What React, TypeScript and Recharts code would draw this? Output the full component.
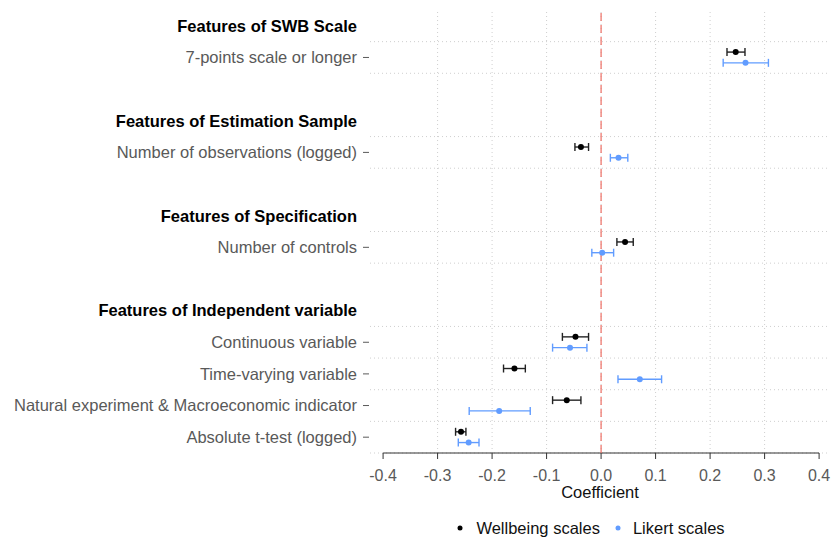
import {
  ComposedChart,
  ErrorBar,
  Legend,
  ReferenceLine,
  Scatter,
  XAxis,
  YAxis,
} from "recharts";

// rows from top to bottom; "" = empty spacer row
const rowLabels = [
  "Features of SWB Scale",
  "7-points scale or longer",
  "",
  "Features of Estimation Sample",
  "Number of observations (logged)",
  "",
  "Features of Specification",
  "Number of controls",
  "",
  "Features of Independent variable",
  "Continuous variable",
  "Time-varying variable",
  "Natural experiment & Macroeconomic indicator",
  "Absolute t-test (logged)",
];
const headers = [
  "Features of SWB Scale",
  "Features of Estimation Sample",
  "Features of Specification",
  "Features of Independent variable",
];

const items = [
  "7-points scale or longer",
  "Number of observations (logged)",
  "Number of controls",
  "Continuous variable",
  "Time-varying variable",
  "Natural experiment & Macroeconomic indicator",
  "Absolute t-test (logged)",
];
const wellbeingEst = [0.247, -0.037, 0.044, -0.047, -0.159, -0.063, -0.257];
const wellbeingLo = [0.231, -0.048, 0.029, -0.071, -0.179, -0.089, -0.267];
const wellbeingHi = [0.264, -0.023, 0.059, -0.023, -0.139, -0.037, -0.248];
const likertEst = [0.265, 0.032, 0.002, -0.057, 0.071, -0.187, -0.243];
const likertLo = [0.224, 0.017, -0.017, -0.089, 0.031, -0.242, -0.262];
const likertHi = [0.307, 0.049, 0.023, -0.026, 0.111, -0.13, -0.224];

const xTicks = [-0.4, -0.3, -0.2, -0.1, 0, 0.1, 0.2, 0.3, 0.4];

const BLUE = "#619CFF";
const GREY = "#595959";
const GRID = "#CFCFCF";
const FS = 16.5;

const rowPos = (label: string) => rowLabels.length - 1 - rowLabels.indexOf(label) + 0.5;

const wellbeingData = items.map((name, i) => ({
  x: wellbeingEst[i],
  y: rowPos(name) + 0.17,
  err: [wellbeingEst[i] - wellbeingLo[i], wellbeingHi[i] - wellbeingEst[i]],
}));
const likertData = items.map((name, i) => ({
  x: likertEst[i],
  y: rowPos(name) - 0.17,
  err: [likertEst[i] - likertLo[i], likertHi[i] - likertEst[i]],
}));

const yTicks = rowLabels.filter((l) => l !== "").map(rowPos);
const hLines = Array.from(
  new Set(items.flatMap((name) => [rowPos(name) - 0.5, rowPos(name) + 0.5]))
);

function RowTick(props: any) {
  const { x, y, payload } = props;
  const label = rowLabels[rowLabels.length - 1 - Math.floor(payload.value)];
  if (!label) return null;
  if (headers.includes(label)) {
    return (
      <text x={x - 13} y={y} dy="0.355em" textAnchor="end" fontSize={FS} fontWeight="bold" fill="#000">
        {label}
      </text>
    );
  }
  return (
    <g>
      <text x={x - 13} y={y} dy="0.355em" textAnchor="end" fontSize={FS} fill={GREY}>
        {label}
      </text>
      <line x1={x - 7} x2={x - 1} y1={y} y2={y} stroke={GREY} strokeWidth={1} />
    </g>
  );
}

function LegendContent() {
  return (
    <div
      style={{
        display: "flex",
        justifyContent: "center",
        alignItems: "center",
        fontSize: FS,
        color: "#111",
        height: 30,
        boxSizing: "border-box",
        paddingLeft: 350,
        paddingTop: 6,
      }}
    >
      <svg width={10} height={10} style={{ marginRight: 11 }}>
        <circle cx={5} cy={5} r={2.5} fill="#000" />
      </svg>
      <span style={{ marginRight: 13 }}>Wellbeing scales</span>
      <svg width={10} height={10} style={{ marginRight: 10 }}>
        <circle cx={5} cy={5} r={2.5} fill={BLUE} />
      </svg>
      <span>Likert scales</span>
    </div>
  );
}

export default function App() {
  return (
    <div style={{ position: "absolute", left: 0, top: 0, fontFamily: "'Liberation Sans', Arial, sans-serif" }}>
      <ComposedChart
        width={831}
        height={540}
        margin={{ top: 10, right: 1, left: 0, bottom: 0 }}
      >
        <XAxis
          type="number"
          dataKey="x"
          domain={[-0.424, 0.42]}
          ticks={xTicks}
          tickFormatter={(v: number) => v.toFixed(1)}
          axisLine={false}
          tickLine={{ stroke: "#333" }}
          tickSize={6}
          tickMargin={11}
          tick={{ fill: GREY, fontSize: 16 }}
          height={57}
          allowDataOverflow
          label={{ value: "Coefficient", position: "insideTop", offset: 33, fill: "#111", fontSize: FS }}
        />
        <YAxis
          type="number"
          dataKey="y"
          domain={[0, rowLabels.length]}
          ticks={yTicks}
          width={370}
          axisLine={false}
          tickLine={false}
          tickSize={0}
          tickMargin={0}
          tick={<RowTick />}
          allowDataOverflow
        />
        {xTicks.slice(1, -1).map((v) => (
          <ReferenceLine key={"v" + v} x={v} stroke={GRID} strokeDasharray="1 3" />
        ))}
        {hLines.map((v) => (
          <ReferenceLine key={"h" + v} y={v} stroke={GRID} strokeDasharray="1 3" />
        ))}
        <ReferenceLine
          segment={[
            { x: -0.4, y: 0 },
            { x: 0.4, y: 0 },
          ]}
          stroke="#333"
        />
        <ReferenceLine x={0} stroke="#EE6E64" strokeDasharray="8 4" strokeWidth={1.2} />
        <Legend verticalAlign="bottom" content={<LegendContent />} />
        <Scatter
          name="Wellbeing scales"
          data={wellbeingData}
          fill="#000"
          isAnimationActive={false}
          shape={(p: any) => <circle cx={p.cx} cy={p.cy} r={3} fill="#000" />}
        >
          <ErrorBar dataKey="err" direction="x" width={4} stroke="#222" strokeWidth={1.4} />
        </Scatter>
        <Scatter
          name="Likert scales"
          data={likertData}
          fill={BLUE}
          isAnimationActive={false}
          shape={(p: any) => <circle cx={p.cx} cy={p.cy} r={3} fill={BLUE} />}
        >
          <ErrorBar dataKey="err" direction="x" width={4} stroke={BLUE} strokeWidth={1.4} />
        </Scatter>
      </ComposedChart>
    </div>
  );
}
